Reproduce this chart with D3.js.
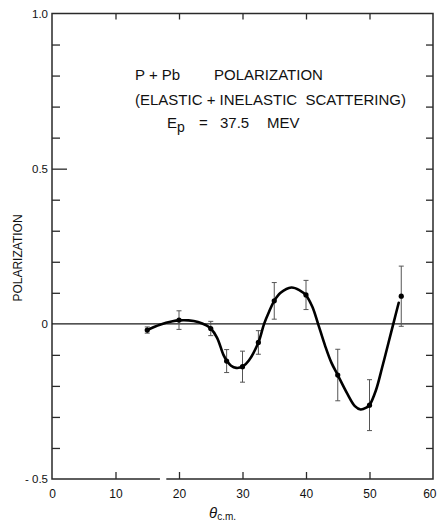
<!DOCTYPE html>
<html>
<head>
<meta charset="utf-8">
<script src="https://cdn.jsdelivr.net/npm/d3@7"></script>
<style>
  html, body { margin: 0; padding: 0; background: #fff; }
  svg { display: block; }
  text { font-family: "Liberation Sans", Arial, sans-serif; fill: #111; }
</style>
</head>
<body>
<svg id="chart" width="437" height="524"></svg>
<script>
// Measured polarization, P + Pb at 37.5 MeV
const angles = [15, 20, 25, 27.5, 30, 32.5, 35, 40, 45, 50, 55];
const polarization = [-0.02, 0.012, -0.015, -0.12, -0.138, -0.06, 0.074, 0.093, -0.165, -0.262, 0.089];
const errors = [0.01, 0.03, 0.023, 0.037, 0.05, 0.038, 0.059, 0.047, 0.083, 0.082, 0.097];

// Hand-drawn smooth fit through the data
const fitAngles = [15, 17, 19, 20, 21.5, 23, 24.3, 25, 26, 27, 27.5, 28.2, 29, 30, 31, 32.5, 33.4, 34.2, 35, 36, 37.7, 39, 40, 41, 41.9, 43, 44, 45, 46.5, 47.7, 48.6, 49.5, 50, 51, 52, 53, 53.75, 54.6];
const fitValues = [-0.02, -0.003, 0.008, 0.011, 0.011, 0.006, -0.005, -0.015, -0.045, -0.1, -0.118, -0.135, -0.142, -0.138, -0.118, -0.06, 0, 0.04, 0.074, 0.1, 0.117, 0.108, 0.092, 0.055, 0, -0.07, -0.125, -0.165, -0.225, -0.265, -0.276, -0.27, -0.262, -0.215, -0.14, -0.06, 0, 0.068];

// Axis ticks
const xMajorTicks = [0, 10, 20, 30, 40, 50, 60];
const yLabelTicks = [-0.5, 0, 0.5, 1.0];
const yMinorTicks = [-0.4, -0.3, -0.2, -0.1, 0.1, 0.2, 0.3, 0.4, 0.6, 0.7, 0.8, 0.9];

const svg = d3.select("#chart");
const plotLeft = 52, plotRight = 433, plotTop = 13.5, plotBottom = 479;

const x = d3.scaleLinear().domain([0, 60]).range([plotLeft, plotRight]);
const y = d3.scaleLinear().domain([-0.5, 1.0]).range([plotBottom, plotTop]);

const frameColor = "#2a2a2a";

// Tick marks drawn inward on all four sides
function ticksOnly(g) {
  g.select(".domain").remove();
  g.selectAll(".tick line").attr("stroke", frameColor).attr("stroke-width", 1.3);
}

svg.append("g")
  .attr("transform", `translate(0,${plotBottom})`)
  .call(d3.axisBottom(x).tickValues(xMajorTicks.slice(1, -1)).tickSize(-7).tickFormat(""))
  .call(ticksOnly);
svg.append("g")
  .attr("transform", `translate(0,${plotTop})`)
  .call(d3.axisTop(x).tickValues(xMajorTicks.slice(1, -1)).tickSize(-6).tickFormat(""))
  .call(ticksOnly);
svg.append("g")
  .attr("transform", `translate(${plotLeft},0)`)
  .call(d3.axisLeft(y).tickValues(yMinorTicks).tickSize(-8).tickFormat(""))
  .call(ticksOnly);
svg.append("g")
  .attr("transform", `translate(${plotLeft},0)`)
  .call(d3.axisLeft(y).tickValues([0.5]).tickSize(-15).tickFormat(""))
  .call(ticksOnly);
svg.append("g")
  .attr("transform", `translate(${plotRight},0)`)
  .call(d3.axisRight(y).tickValues(yMinorTicks.concat([0.5])).tickSize(-7).tickFormat(""))
  .call(ticksOnly);

// Tick labels
const xLabels = svg.append("g")
  .attr("transform", `translate(0,${plotBottom})`)
  .call(d3.axisBottom(x).tickValues(xMajorTicks).tickSize(0).tickPadding(10).tickFormat(d3.format("d")));
xLabels.select(".domain").remove();
xLabels.selectAll("text").attr("font-size", 12).style("font-family", "'Liberation Sans', Arial, sans-serif").attr("fill", "#111");
// keep the last label inside the page edge
xLabels.selectAll(".tick").filter(d => d === 60).select("text").attr("text-anchor", "end").attr("x", 3);

const yLabels = svg.append("g")
  .attr("transform", `translate(${plotLeft},0)`)
  .call(d3.axisLeft(y).tickValues(yLabelTicks).tickSize(0).tickPadding(4)
    .tickFormat(d => d === 0 ? "0" : d < 0 ? "- " + d3.format(".1f")(-d) : d3.format(".1f")(d)));
yLabels.select(".domain").remove();
yLabels.selectAll("text").attr("font-size", 11.5).style("font-family", "'Liberation Sans', Arial, sans-serif").attr("fill", "#111");

// Frame (bottom edge has a small break near 17-18 degrees)
const frame = svg.append("g").attr("fill", "none").attr("stroke", frameColor).attr("stroke-width", 1.5);
frame.append("path").attr("d", `M${x(18)},${plotBottom} L${plotRight},${plotBottom} L${plotRight},${plotTop} L${plotLeft},${plotTop} L${plotLeft},${plotBottom} L${x(17)},${plotBottom}`);

// Zero line
svg.append("line")
  .attr("x1", x(0)).attr("x2", x(60))
  .attr("y1", y(0)).attr("y2", y(0))
  .attr("stroke", "#1a1a1a").attr("stroke-width", 1.3);

// Error bars
const data = angles.map((a, i) => ({ a, p: polarization[i], e: errors[i] }));
const eb = svg.append("g").attr("stroke", "#555").attr("stroke-width", 1);
eb.selectAll("line.v").data(data).join("line").attr("class", "v")
  .attr("x1", d => x(d.a)).attr("x2", d => x(d.a))
  .attr("y1", d => y(d.p + d.e)).attr("y2", d => y(d.p - d.e));
eb.selectAll("line.t").data(data).join("line").attr("class", "t")
  .attr("x1", d => x(d.a) - 2.5).attr("x2", d => x(d.a) + 2.5)
  .attr("y1", d => y(d.p + d.e)).attr("y2", d => y(d.p + d.e));
eb.selectAll("line.b").data(data).join("line").attr("class", "b")
  .attr("x1", d => x(d.a) - 2.5).attr("x2", d => x(d.a) + 2.5)
  .attr("y1", d => y(d.p - d.e)).attr("y2", d => y(d.p - d.e));

// Fitted curve
const fit = fitAngles.map((a, i) => [a, fitValues[i]]);
svg.append("path")
  .datum(fit)
  .attr("fill", "none")
  .attr("stroke", "#000")
  .attr("stroke-width", 2.6)
  .attr("stroke-linecap", "round")
  .attr("d", d3.line().x(d => x(d[0])).y(d => y(d[1])).curve(d3.curveCatmullRom.alpha(0.5)));

// Data points
svg.append("g").selectAll("circle").data(data).join("circle")
  .attr("cx", d => x(d.a)).attr("cy", d => y(d.p)).attr("r", 2.6).attr("fill", "#000");

// Title block
const title = svg.append("g").attr("font-size", 15);
title.append("text").attr("x", 135).attr("y", 80).text("P + Pb");
title.append("text").attr("x", 214).attr("y", 80).text("POLARIZATION");
title.append("text").attr("x", 135).attr("y", 105).attr("xml:space", "preserve").text("(ELASTIC + INELASTIC  SCATTERING)");
const ep = title.append("text").attr("x", 167).attr("y", 128);
ep.append("tspan").text("E");
ep.append("tspan").attr("font-size", 14).attr("dy", 4).text("p");
title.append("text").attr("x", 199).attr("y", 128).text("=");
title.append("text").attr("x", 220).attr("y", 128).text("37.5");
title.append("text").attr("x", 267).attr("y", 128).text("MEV");

// Axis titles
svg.append("text")
  .attr("transform", `translate(22,258) rotate(-90)`)
  .attr("text-anchor", "middle")
  .attr("font-size", 12)
  .text("POLARIZATION");

const xt = svg.append("text").attr("x", 209).attr("y", 518).attr("font-size", 15);
xt.append("tspan").attr("font-style", "italic").text("θ");
xt.append("tspan").attr("font-size", 10).attr("dy", 2).text("c.m.");
</script>
</body>
</html>
